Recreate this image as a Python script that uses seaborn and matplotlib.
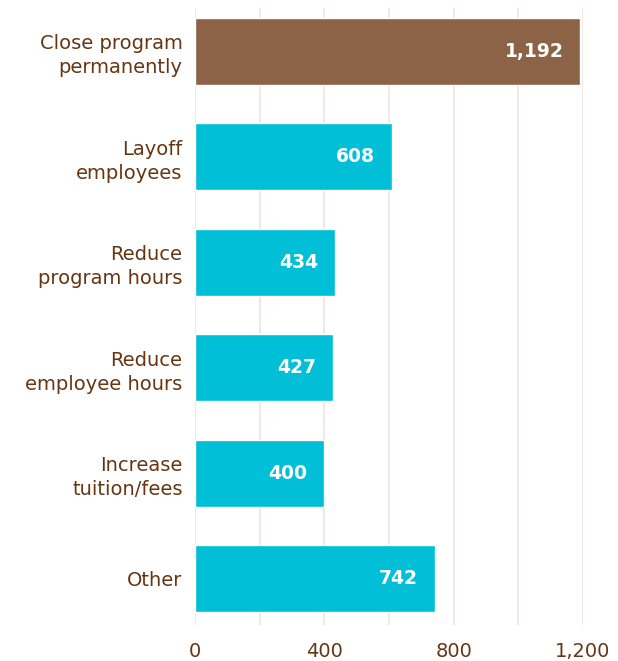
import matplotlib
matplotlib.use("Agg")
import matplotlib.pyplot as plt
import seaborn as sns
import pandas as pd

categories = ["Close program\npermanently", "Layoff\nemployees", "Reduce\nprogram hours",
              "Reduce\nemployee hours", "Increase\ntuition/fees", "Other"]
values = [1192, 608, 434, 427, 400, 742]
colors = ["#8c6347", "#00bfd7", "#00bfd7", "#00bfd7", "#00bfd7", "#00bfd7"]
xtick_vals = [0, 400, 800, 1200]
xtick_labels = ["0", "400", "800", "1,200"]

sns.set_theme(style="white")
plt.rcParams['font.family'] = ['DejaVu Sans']
TEXT = "#663613"

df = pd.DataFrame({"cat": categories, "val": values})
fig = plt.figure(figsize=(6.18, 6.61), dpi=100)
ax = fig.add_axes([195/618, 1 - 625/661, (583-195)/618, (625-8)/661])

sns.barplot(data=df, x="val", y="cat", hue="cat", palette=colors, legend=False,
            width=0.635, ax=ax, saturation=1, zorder=3)

for p, v in zip(ax.patches, values):
    y = p.get_y() + p.get_height()/2
    ax.text(p.get_width() - 1200*17/388, y, f"{v:,}", ha="right", va="center",
            color="white", fontsize=13.5, fontweight="bold", zorder=4)

ax.set_xlim(0, 1200)
ax.set_ylim(5.44, -0.41)
ax.set_xticks(range(0, 1201, 200))
ax.set_xticklabels([xtick_labels[xtick_vals.index(t)] if t in xtick_vals else "" for t in range(0, 1201, 200)])
ax.grid(axis="x", color="#f1e1e1", linewidth=1.2, zorder=0)
ax.grid(axis="y", visible=False)
for s in ax.spines.values():
    s.set_visible(False)
ax.tick_params(axis="x", length=0, pad=12, labelsize=14, labelcolor=TEXT)
ax.tick_params(axis="y", length=0, pad=9, labelsize=14, labelcolor=TEXT)
for lbl in ax.get_yticklabels():
    lbl.set_horizontalalignment("right")
    lbl.set_multialignment("right")
    lbl.set_linespacing(1.35)
ax.set_xlabel("")
ax.set_ylabel("")

fig.savefig("out.png", dpi=100)
